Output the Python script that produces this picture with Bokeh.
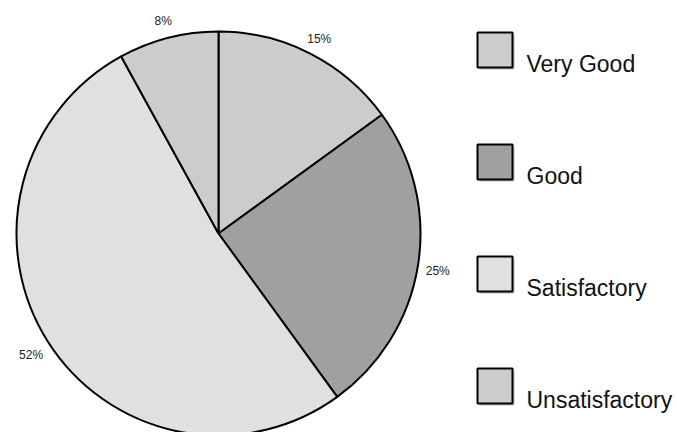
import numpy as np
from bokeh.plotting import figure
from bokeh.models import Range1d, ColumnDataSource
from bokeh.core.properties import value
from bokeh.embed import file_html
from bokeh.resources import INLINE

categories = ["Very Good", "Good", "Satisfactory", "Unsatisfactory"]
percent = [15, 25, 52, 8]
colors = ["#cccccc", "#a0a0a0", "#e0e0e0", "#cccccc"]
labels = ["15%", "25%", "52%", "8%"]

W, H = 677, 432
p = figure(width=W, height=H, x_range=Range1d(0, W), y_range=Range1d(0, H),
           output_backend="svg", toolbar_location=None, min_border=0,
           x_axis_location=None, y_axis_location=None)
p.grid.visible = False
p.outline_line_color = None
p.background_fill_color = "white"
p.border_fill_color = "white"

cx, cy, R = 218, H - 233, 202
frac = np.array(percent, dtype=float) / sum(percent)
cum = np.concatenate([[0.0], np.cumsum(frac)])
start = np.pi / 2 - 2 * np.pi * cum[:-1]
end = np.pi / 2 - 2 * np.pi * cum[1:]
mid = (start + end) / 2
LR = 222

src = ColumnDataSource(dict(start=start, end=end, color=colors,
                            lx=cx + LR * np.cos(mid), ly=cy + LR * np.sin(mid) - 3,
                            label=labels))
p.wedge(x=cx, y=cy, radius=R, start_angle="start", end_angle="end", direction="clock",
        fill_color="color", line_color="black", line_width=2, source=src)
p.text(x="lx", y="ly", text="label", source=src, text_align="center", text_baseline="middle",
       text_font=value("Liberation Sans"), text_font_size="12px", text_color="#222222")

# legend
top0, step, box = 32, 112, 35
bx = 477
ys_top = [top0 + i * step for i in range(len(categories))]
leg = ColumnDataSource(dict(
    x=[bx + box / 2] * len(categories),
    y=[H - (t + box / 2) for t in ys_top],
    sx=[bx + box / 2 + 2] * len(categories),
    sy=[H - (t + box / 2) - 2 for t in ys_top],
    tx=[bx + 49] * len(categories),
    ty=[H - (t + 31) for t in ys_top],
    color=colors, name=categories))
p.rect(x="sx", y="sy", width=box, height=box, source=leg, fill_color="#bdbdbd", line_color=None)
p.rect(x="x", y="y", width=box, height=box, source=leg, fill_color="color",
       line_color="black", line_width=2)
p.text(x="tx", y="ty", text="name", source=leg, text_align="left", text_baseline="alphabetic",
       text_font=value("Liberation Sans"), text_font_size="23px", text_color="#111111")

open("out.html", "w").write(file_html(p, INLINE))
